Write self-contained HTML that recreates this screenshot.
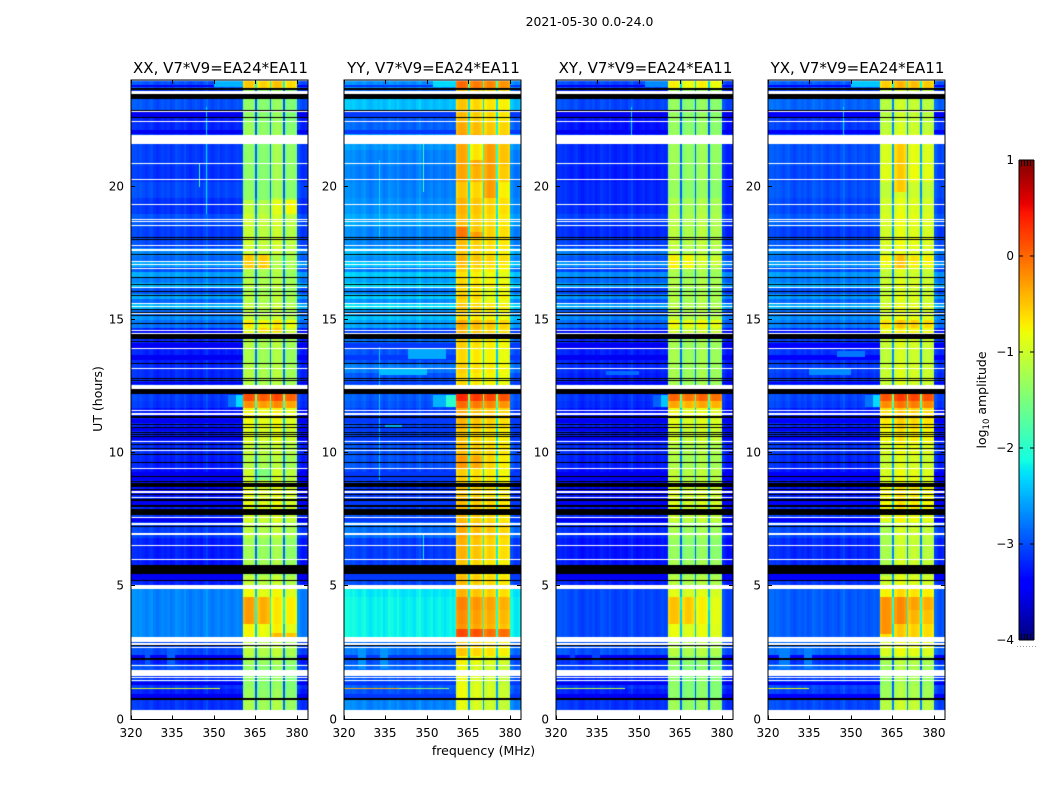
<!DOCTYPE html>
<html lang="en">
<head>
<meta charset="utf-8">
<title>2021-05-30 visibility waterfall</title>
<style>
html,body{margin:0;padding:0;background:#fff;}
#figure{position:relative;width:1050px;height:800px;overflow:hidden;background:#fff;font-family:"DejaVu Sans","Liberation Sans",sans-serif;}
canvas{position:absolute;display:block;}
#overlay{position:absolute;left:0;top:0;}
#overlay text{font-family:"DejaVu Sans","Liberation Sans",sans-serif;fill:#000;}
</style>
</head>
<body>
<div id="figure">
<canvas id="hm0" width="177" height="639" style="left:131px;top:80px"></canvas>
<canvas id="hm1" width="177" height="639" style="left:344px;top:80px"></canvas>
<canvas id="hm2" width="177" height="639" style="left:556px;top:80px"></canvas>
<canvas id="hm3" width="177" height="639" style="left:768px;top:80px"></canvas>
<canvas id="cbar" width="15" height="480" style="left:1019px;top:160px"></canvas>
<svg id="overlay" width="1050" height="800" viewBox="0 0 1050 800">
<text x="589.5" y="26" text-anchor="middle" font-size="12.4">2021-05-30 0.0-24.0</text>
<text x="483.5" y="755" text-anchor="middle" font-size="12.5">frequency (MHz)</text>
<text transform="translate(102,399) rotate(-90)" text-anchor="middle" font-size="12.5">UT (hours)</text>
<text transform="translate(986,400) rotate(-90)" text-anchor="middle" font-size="12.5">log<tspan font-size="8.5" dy="3">10</tspan><tspan dy="-3"> amplitude</tspan></text>
</svg>
</div>
<script>
// ---- data (log10 amplitude, hours, MHz) ----
const panelTitles = ["XX, V7*V9=EA24*EA11","YY, V7*V9=EA24*EA11","XY, V7*V9=EA24*EA11","YX, V7*V9=EA24*EA11"];
const xTicks = [320,335,350,365,380];
const yTicks = [0,5,10,15,20];
const colorbarTicks = [-4,-3,-2,-1,0,1];
const colorbarLabels = ["\u22124","\u22123","\u22122","\u22121","0","1"];

const timeKnots = [0.375,0.8,1.15,1.3,1.7,2.1,2.4,3.1,3.6,4.1,
4.6,5.0,5.4,6.0,6.8,7.4,7.9,8.4,8.9,9.4,
9.9,10.4,10.9,11.3,11.7,11.95,12.5,13.0,13.4,13.9,
14.4,14.7,15.0,15.2,15.4,15.6,15.8,16.0,16.2,16.4,
16.6,16.8,17.0,17.2,17.4,17.7,18.1,18.5,19.0,19.6,
20.2,20.8,21.4,22.0,22.4,22.9,23.4,23.7];

const xxBackground = [-3.15,-3.25,-3.15,-3.15,-3.05,-3.25,-3.05,-2.75,-2.75,-2.75,
-2.75,-3.25,-3.3,-3.25,-3.1,-3.15,-3.25,-3.35,-3.35,-3.25,
-3.2,-3.25,-3.25,-3.3,-3.15,-3.1,-3.2,-3.2,-3.25,-3.2,
-3.25,-2.85,-2.7,-2.9,-2.5,-2.9,-2.6,-3.0,-2.5,-2.8,
-2.6,-3.0,-2.6,-2.9,-2.75,-3.05,-3.1,-3.0,-3.15,-3.05,
-3.15,-3.1,-3.1,-3.2,-3.25,-3.0,-3.15,-3.0];
const xxSignal = [-1.15,-1.25,-1.3,-1.3,-1.3,-1.2,-1.05,-0.7,-0.45,-0.35,
-0.75,-1.0,-1.15,-1.2,-1.05,-0.9,-0.8,-0.8,-0.95,-1.1,
-1.0,-0.85,-0.75,-0.7,-0.15,0.2,-1.1,-1.1,-1.15,-1.1,
-0.85,-0.65,-1.0,-1.05,-1.0,-1.1,-1.05,-1.15,-1.05,-1.1,
-1.15,-1.1,-0.75,-0.7,-1.0,-0.95,-1.0,-0.95,-1.05,-1.25,
-1.2,-1.2,-1.2,-1.25,-1.3,-1.3,-1.25,-0.45];
const xxBandOffsets = [-0.08,-0.15,-0.05,-0.2];

const yyBackground = [-2.75,-3.0,-2.95,-3.0,-2.9,-3.0,-2.85,-2.2,-2.2,-2.2,
-2.25,-3.05,-3.1,-3.1,-2.85,-3.0,-3.1,-3.15,-3.1,-3.0,
-3.0,-3.05,-3.05,-3.1,-3.0,-2.95,-3.0,-2.8,-3.0,-2.85,
-3.05,-2.6,-2.45,-2.7,-2.3,-2.7,-2.4,-2.8,-2.3,-2.6,
-2.4,-2.8,-2.4,-2.7,-2.5,-2.75,-2.75,-2.6,-2.7,-2.75,
-2.8,-2.75,-2.65,-2.9,-2.95,-2.45,-2.9,-2.7];
const yySignal = [-0.95,-0.9,-0.9,-0.95,-0.95,-0.85,-0.6,-0.35,-0.3,-0.25,
-0.5,-0.55,-0.6,-0.5,-0.45,-0.55,-0.55,-0.6,-0.65,-0.35,
-0.55,-0.6,-0.5,-0.45,-0.1,0.25,-0.7,-0.65,-0.7,-0.65,
-0.5,-0.45,-0.7,-0.65,-0.6,-0.7,-0.6,-0.7,-0.65,-0.7,
-0.75,-0.65,-0.55,-0.5,-0.6,-0.55,-0.5,-0.55,-0.5,-0.6,
-0.4,-0.35,-0.35,-0.45,-0.55,-0.6,-0.55,-0.1];
const yyBandOffsets = [0.08,-0.02,-0.08,-0.16];

const xyBackground = [-3.15,-3.25,-3.15,-3.2,-3.1,-3.2,-3.0,-3.05,-3.05,-3.05,
-3.05,-3.25,-3.3,-3.3,-3.2,-3.2,-3.3,-3.35,-3.35,-3.25,
-3.2,-3.25,-3.25,-3.3,-3.2,-3.15,-3.25,-3.2,-3.25,-3.2,
-3.25,-2.9,-2.75,-3.0,-2.6,-3.0,-2.7,-3.1,-2.6,-2.9,
-2.7,-3.1,-2.7,-3.0,-2.8,-3.1,-3.2,-3.1,-3.2,-3.2,
-3.25,-3.2,-3.2,-3.3,-3.3,-3.05,-3.25,-3.05];
const xySignal = [-1.2,-1.3,-1.3,-1.3,-1.3,-1.25,-1.05,-0.75,-0.65,-0.5,
-0.8,-1.05,-1.15,-1.25,-1.15,-0.95,-0.85,-0.85,-1.0,-1.1,
-1.05,-0.9,-0.8,-0.75,-0.25,0.1,-1.15,-1.15,-1.15,-1.15,
-0.9,-0.7,-1.0,-1.05,-1.05,-1.1,-1.05,-1.15,-1.05,-1.1,
-1.15,-1.1,-0.9,-0.85,-1.05,-1.0,-1.05,-1.05,-1.1,-1.25,
-1.2,-1.2,-1.2,-1.25,-1.25,-1.25,-1.2,-0.65];
const xyBandOffsets = [-0.1,-0.18,-0.1,-0.18];

const yxBackground = [-3.05,-3.1,-3.05,-3.1,-2.95,-3.15,-2.9,-2.95,-2.95,-2.95,
-2.95,-3.15,-3.2,-3.2,-3.05,-3.1,-3.2,-3.3,-3.3,-3.2,
-3.15,-3.2,-3.2,-3.25,-3.1,-3.05,-3.15,-3.1,-3.15,-3.1,
-3.2,-2.8,-2.7,-2.9,-2.55,-2.9,-2.65,-3.0,-2.55,-2.8,
-2.65,-3.0,-2.65,-2.9,-2.75,-3.0,-3.1,-2.95,-3.05,-3.0,
-3.05,-3.0,-3.0,-3.1,-3.15,-2.9,-3.1,-2.95];
const yxSignal = [-1.05,-1.2,-1.2,-1.25,-1.2,-1.15,-0.85,-0.55,-0.4,-0.3,
-0.65,-0.9,-1.0,-1.05,-1.0,-0.8,-0.7,-0.7,-0.85,-0.95,
-0.85,-0.7,-0.6,-0.55,-0.1,0.2,-0.95,-0.95,-1.0,-0.95,
-0.75,-0.55,-0.85,-0.9,-0.85,-0.95,-0.9,-1.0,-0.9,-0.95,
-1.0,-0.95,-0.7,-0.65,-0.9,-0.85,-0.9,-0.85,-0.9,-1.0,
-0.8,-0.85,-0.85,-1.0,-1.05,-1.05,-1.0,-0.45];
const yxBandOffsets = [-0.12,0.02,-0.03,-0.1];

const backgroundProfile = [0.1,0.1,0.05,0.1,0.05,0,0.05,0.1,0,-0.05,0,0.05,0,0.05,-0.05,0,0.1,0.05,0,0.1,0,-0.05,0,0.05,0,-0.05,0.05,0.15,0,-0.05,0,0.05,-0.05,0,0.05,0,-0.05,0,0.05,0,0.1];
const edgeProfile = [0.1,0,-0.05,0,0.1];
const bandProfile = [-0.08,0.03,0.05,0.02,-0.06];
const bandStarts = [360.4,365.6,370.8,375.6];
const bandEnds = [365.0,370.2,375.0,380.0];

// flagged integrations shown white: [start hour, end hour]
const whiteBands = [[23.49,23.6],[22.83,22.87],[22.44,22.48],[21.61,21.95],[20.86,20.9],[20.26,20.3],[19.32,19.36],[18.76,18.8],[18.67,18.71],[18.54,18.57],[17.79,17.84],[17.58,17.69],[17.19,17.22],[17.07,17.11],[16.92,16.96],[16.21,16.25],[15.61,15.65],[15.5,15.53],[15.23,15.27],[14.6,14.63],[14.48,14.52],[13.92,13.96],[13.17,13.21],[12.42,12.57],[11.59,11.63],[11.44,11.52],[10.43,10.47],[10.09,10.13],[9.42,9.46],[8.52,8.59],[8.33,8.37],[7.58,7.62],[7.32,7.37],[6.94,7.02],[6.53,6.57],[6.0,6.04],[4.9,5.04],[2.9,3.09],[2.81,2.86],[2.68,2.74],[2.01,2.06],[1.625,1.865],[1.575,1.6],[1.445,1.48],[0,0.375]];
// integrations with zero amplitude shown black
const blackBands = [[23.66,23.71],[23.31,23.49],[22.87,22.91],[22.58,22.63],[18.1,18.14],[18.02,18.06],[17.43,17.49],[16.57,16.62],[16.32,16.36],[16.06,16.1],[15.91,15.95],[15.39,15.42],[15.27,15.31],[15.16,15.2],[14.84,14.88],[14.28,14.48],[14.16,14.22],[13.34,13.4],[12.8,12.83],[12.7,12.74],[12.23,12.42],[11.34,11.39],[11.07,11.11],[10.96,11.0],[10.77,10.81],[10.69,10.73],[10.62,10.66],[10.32,10.36],[10.15,10.21],[9.94,9.98],[9.62,9.68],[9.12,9.16],[8.93,8.97],[8.72,8.89],[8.63,8.67],[8.44,8.48],[8.22,8.29],[7.99,8.07],[7.69,7.92],[7.22,7.26],[5.47,5.8],[5.22,5.25],[2.76,2.81],[2.25,2.31],[0.73,0.79]];
// darker off-signal integrations: [start hour, end hour]
const dimBands = [[11.12,11.3],[10.82,10.95],[10.5,10.6],[9.16,9.3],[9.0,9.1],[8.59,8.63],[8.07,8.2],[7.42,7.55],[5.25,5.45],[13.5,13.7],[13.96,14.15],[14.55,14.6],[12.6,12.68],[22.63,22.8],[22.0,22.15],[23.75,23.82],[0.8,0.95],[1.3,1.42],[2.3,2.42]];
// brighter patches: [panel, start hour, end hour, start MHz, end MHz, log amplitude]
const cloudPatches = [[0,11.75,12.2,358,360.4,-2.3],[0,11.75,12.2,355,358,-2.8],[1,11.75,12.2,357,360.4,-2.0],[1,11.75,12.2,352,357,-2.5],[2,11.75,12.2,358,360.4,-2.4],[2,11.75,12.2,355,358,-2.9],[3,11.75,12.2,358,360.4,-2.3],[3,11.75,12.2,355,358,-2.8],
[1,12.95,13.15,333,350,-2.45],[1,13.55,13.9,343,357,-2.55],[1,10.95,11.05,335,341,-2.5],[2,12.95,13.1,338,350,-2.85],[3,12.95,13.15,335,350,-2.7],[3,13.6,13.85,345,355,-2.8],
[0,23.75,24,350,360.4,-2.5],[1,23.75,24,352,360.4,-2.3],[2,23.75,24,352,360.4,-2.7],[3,23.75,24,350,360.4,-2.4],
[0,1.9,2.7,325,327,-2.95],[0,1.9,2.7,333,336,-2.9],[1,1.9,2.7,325,328,-2.65],[1,1.9,2.7,333,336,-2.65],[2,1.9,2.7,325,327,-3.05],[2,1.9,2.7,333,336,-3.05],[3,1.9,2.7,324,328,-2.75],[3,1.9,2.7,333,336,-2.75]];
// per sub-band departures: [panel, start hour, end hour, band, log amplitude]
const bandPatches = [[0,16.95,17.45,0,-0.55],[0,16.95,17.45,1,-0.55],[0,16.95,17.45,2,-1.2],[0,16.95,17.45,3,-1.25],
[0,3.6,4.6,0,-0.3],[0,3.6,4.6,1,-0.4],[0,3.6,4.6,2,-0.7],[0,3.6,4.6,3,-0.75],[0,3.1,3.25,2,-0.45],[0,3.1,3.25,3,-0.5],
[0,19.0,19.5,3,-0.8],[0,19.0,19.5,2,-0.9],[0,19.5,21.6,0,-1.4],[0,19.5,21.6,1,-1.45],[0,9.0,9.4,1,-1.5],[0,14.55,14.7,2,-0.55],[0,14.55,14.7,1,-0.6],
[1,19.6,21.6,2,-0.3],[1,20.2,21.6,0,-0.35],[1,21.0,21.6,1,-0.7],[1,3.1,3.4,0,0.15],[1,3.1,3.4,1,0.1],[1,3.1,3.4,2,-0.05],[1,3.1,3.4,3,-0.05],[1,18.1,18.5,0,-0.1],[1,18.1,18.3,1,-0.3],[1,15.7,16.2,2,-0.9],[1,9.45,9.9,2,-0.6],[1,9.45,9.9,3,-0.75],
[2,3.6,4.6,0,-0.5],[2,3.6,4.6,1,-0.55],[2,3.6,4.6,2,-0.75],[2,3.6,4.6,3,-0.9],[2,16.95,17.45,0,-0.75],[2,16.95,17.45,1,-0.8],
[3,3.2,4.6,0,-0.25],[3,3.6,4.6,1,-0.2],[3,19.8,21.6,1,-0.55],[3,5.4,7.4,0,-1.25],[3,16.95,17.45,1,-0.5]];
// narrow interference: [panel, hour, start MHz, end MHz, log amplitude]
const rfiRows = [[0,1.17,320,352,-0.9],[1,1.17,320,340,-0.4],[1,1.17,340,358,-1.3],[2,1.17,320,345,-1.1],[3,1.17,320,335,-0.8]];
// narrow interference: [panel, frequency MHz, start hour, end hour, log amplitude]
const rfiColumns = [[0,347,19,23,-2.3],[0,344.5,20,20.9,-1.9],[1,332.5,18,21,-2.3],[1,348.5,19.8,21.6,-1.9],[1,348.5,6,7,-2.2],[1,332.5,9,14,-2.4],[2,347,21.7,23,-2.3],[3,347,21.7,23,-2.3]];

const panelBackground = [xxBackground,yyBackground,xyBackground,yxBackground];
const panelSignal = [xxSignal,yySignal,xySignal,yxSignal];
const panelBandOffsets = [xxBandOffsets,yyBandOffsets,xyBandOffsets,yxBandOffsets];

// ---- scales ----
const panelLefts = [131,344,556,768];
const panelW = 177, axTop = 80.5, axBottom = 719.5, canvasTop = 80;
const xScale = f => (f-320)/(384-320)*panelW;
const yScale = h => axBottom - h/24*(axBottom-axTop);
const cbTop = 160, cbBottom = 640, cbLeft = 1019, cbRight = 1034;
const cbScale = v => cbBottom - (v+4)/5*(cbBottom-cbTop);

function ramp(v,pts){
  for(let i=1;i<pts.length;i++){
    if(v<=pts[i][0]){
      const a=pts[i-1],b=pts[i];
      return a[1]+(b[1]-a[1])*(v-a[0])/(b[0]-a[0]);
    }
  }
  return pts[pts.length-1][1];
}
const jetR=[[0,0],[0.35,0],[0.66,1],[0.89,1],[1,0.5]];
const jetG=[[0,0],[0.125,0],[0.375,1],[0.64,1],[0.91,0],[1,0]];
const jetB=[[0,0.5],[0.11,1],[0.34,1],[0.65,0],[1,0]];
function jet(logA){
  const v=Math.max(0,Math.min(1,(logA+4)/5));
  return "rgb("+Math.round(255*ramp(v,jetR))+","+Math.round(255*ramp(v,jetG))+","+Math.round(255*ramp(v,jetB))+")";
}
function fillCell(ctx,f0,f1,h0,h1,color){
  const x0=Math.round(xScale(f0)),x1=Math.max(x0+1,Math.round(xScale(f1)));
  const yA=Math.round(yScale(h1)-canvasTop),yB=Math.max(yA+1,Math.round(yScale(h0)-canvasTop));
  ctx.fillStyle=color;
  ctx.fillRect(x0,yA,x1-x0,yB-yA);
}

// ---- heatmaps ----
panelLefts.forEach(function(left,p){
  const ctx=document.getElementById("hm"+p).getContext("2d");
  const bg=panelBackground[p],sig=panelSignal[p],offs=panelBandOffsets[p];
  timeKnots.forEach(function(t0,i){
    const t1=i+1<timeKnots.length?timeKnots[i+1]:24;
    backgroundProfile.forEach(function(d,c){
      fillCell(ctx,320+c,Math.min(321+c,360.4),t0,t1,jet(bg[i]+d));
    });
    edgeProfile.forEach(function(d,c){
      fillCell(ctx,380+c,381+c,t0,t1,jet(bg[i]+d));
    });
    bandStarts.forEach(function(fs,b){
      const fe=bandEnds[b],step=(fe-fs)/bandProfile.length;
      bandProfile.forEach(function(d,c){
        fillCell(ctx,fs+c*step,fs+(c+1)*step,t0,t1,jet(sig[i]+offs[b]+d));
      });
      if(b<3){fillCell(ctx,fe,bandStarts[b+1],t0,t1,jet(sig[i]-1.7));}
    });
  });
  dimBands.forEach(function(q){
    fillCell(ctx,320,360.4,q[0],q[1],jet(panelBackground[p][0]-0.35));
    fillCell(ctx,380,384,q[0],q[1],jet(panelBackground[p][0]-0.35));
  });
  cloudPatches.forEach(function(q){
    if(q[0]===p){fillCell(ctx,q[3],q[4],q[1],q[2],jet(q[5]));}
  });
  bandPatches.forEach(function(q){
    if(q[0]===p){
      const fs=bandStarts[q[3]],fe=bandEnds[q[3]],step=(fe-fs)/bandProfile.length;
      bandProfile.forEach(function(d,c){
        fillCell(ctx,fs+c*step,fs+(c+1)*step,q[1],q[2],jet(q[4]+d));
      });
    }
  });
  rfiColumns.forEach(function(q){
    if(q[0]===p){fillCell(ctx,q[1],q[1]+0.3,q[2],q[3],jet(q[4]));}
  });
  rfiRows.forEach(function(q){
    if(q[0]===p){fillCell(ctx,q[2],q[3],q[1],q[1]+0.03,jet(q[4]));}
  });
  blackBands.forEach(function(q){fillCell(ctx,320,384,q[0],q[1],"#000");});
  whiteBands.forEach(function(q){fillCell(ctx,320,384,q[0],q[1],"#fff");});
});

// ---- colorbar ----
(function(){
  const ctx=document.getElementById("cbar").getContext("2d");
  for(let y=0;y<480;y++){
    const v=1-(y+0.5)/480*5;
    ctx.fillStyle=jet(v);
    ctx.fillRect(0,y,15,1);
  }
})();

// ---- axes ----
const NS="http://www.w3.org/2000/svg";
const svg=document.getElementById("overlay");
function line(x1,y1,x2,y2,name,col){
  const el=document.createElementNS(NS,"line");
  el.setAttribute("x1",x1);el.setAttribute("y1",y1);el.setAttribute("x2",x2);el.setAttribute("y2",y2);
  el.setAttribute("stroke",col||"#000");el.setAttribute("stroke-width","1");
  
  
  svg.appendChild(el);
}
function label(x,y,str,anchor,size,name){
  const el=document.createElementNS(NS,"text");
  el.setAttribute("x",x);el.setAttribute("y",y);el.setAttribute("text-anchor",anchor);el.setAttribute("font-size",size);
  el.textContent=str;
  
  
  svg.appendChild(el);
}
panelLefts.forEach(function(left,p){
  const right=left+panelW;
  const frame=document.createElementNS(NS,"rect");
  frame.setAttribute("x",left);frame.setAttribute("y",axTop-0.5);frame.setAttribute("width",panelW);frame.setAttribute("height",axBottom-axTop+0.5);
  frame.setAttribute("fill","none");frame.setAttribute("stroke","#000");frame.setAttribute("stroke-width","1");
  
  
  svg.appendChild(frame);
  label(left+panelW/2+1,73,panelTitles[p],"middle",15,"panel-title");
  xTicks.forEach(function(t){
    const x=Math.round(left+xScale(t))+0.5;
    line(x,axBottom,x,axBottom-4,"x-tick");
    line(x,axTop-0.5,x,axTop+3.5,"x-tick-top");
    label(x-0.5,737,String(t),"middle",12,"x-tick-label");
  });
  yTicks.forEach(function(t){
    const y=Math.round(yScale(t))-0.5;
    line(left,y,left+4,y,"y-tick");
    line(right,y,right-4,y,"y-tick-right");
    label(left-7,y+4,String(t),"end",12,"y-tick-label");
  });
});
// colorbar frame and ticks
line(cbLeft,cbTop,cbLeft,cbBottom,"colorbar-edge-left");
line(cbRight,cbTop,cbRight,cbBottom,"colorbar-edge-right");
line(cbLeft,cbTop,cbRight,cbTop,"colorbar-edge-top");
line(cbLeft,cbBottom,cbRight,cbBottom,"colorbar-edge-bottom");
colorbarTicks.forEach(function(v,i){
  const y=cbScale(v);
  line(cbLeft,y,cbLeft+4,y,"colorbar-tick");
  line(cbRight,y,cbRight-4,y,"colorbar-tick-right");
  label(cbLeft-5,y+4,colorbarLabels[i],"end",12,"colorbar-tick-label");
});
[1021.5,1024.5,1027.5,1030.5].forEach(function(x){
  line(x,cbTop,x,cbTop+6,"colorbar-top-minor");
  line(x,cbBottom,x,cbBottom-6,"colorbar-bottom-minor");
});
(function(){
  const el=document.createElementNS(NS,"line");
  el.setAttribute("x1",1017);el.setAttribute("y1",646.5);el.setAttribute("x2",1036);el.setAttribute("y2",646.5);
  el.setAttribute("stroke","#999");el.setAttribute("stroke-width","1");el.setAttribute("stroke-dasharray","1 2");
  
  
  svg.appendChild(el);
})();
</script>
</body>
</html>
